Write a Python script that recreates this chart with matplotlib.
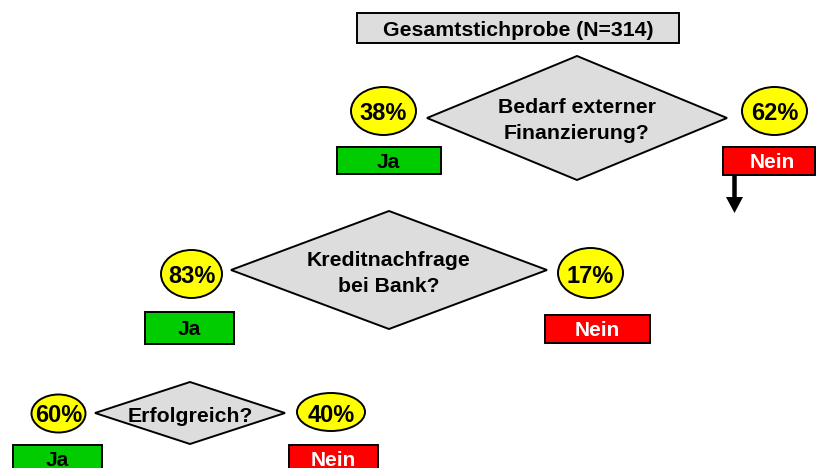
import matplotlib
matplotlib.use("Agg")
import matplotlib.pyplot as plt
from matplotlib.patches import Polygon, Ellipse, Rectangle, FancyArrow

plt.rcParams['font.family'] = ['Liberation Sans', 'DejaVu Sans']

# ---- data ----
title = "Gesamtstichprobe (N=314)"
questions = ["Bedarf externer\nFinanzierung?", "Kreditnachfrage\nbei Bank?", "Erfolgreich?"]
yes_pct = [38, 83, 60]
no_pct = [62, 17, 40]
yes_label = "Ja"
no_label = "Nein"

# ---- layout (pixel coordinates, y downward) ----
W, H = 817, 468
diamonds = [(577, 118, 150, 62), (389, 270, 158, 59), (190, 413, 95, 31)]
q_base = [(113, 139), (266, 292), (422,)]          # baselines of question lines
yes_ell = [(383.5, 111, 65, 48), (191.5, 274, 61, 48), (58.5, 413.5, 54, 38)]
no_ell = [(774.5, 111, 65, 48), (590.5, 273, 65, 50), (331, 412, 68, 38)]
pct_base = [120, 283, 421.5]
yes_box = [(337, 147, 441, 174), (145, 312, 234, 344), (13, 445, 102, 475)]
no_box = [(723, 147, 815.5, 175), (545, 315, 650, 343), (289, 445, 378, 475)]
yes_txt = [(388.5, 168), (189.5, 335), (57, 465.5)]
no_txt = [(772, 168), (597.5, 336.5), (333.5, 465.5)]

GREY = '#DDDDDD'
GREEN = '#00CC00'
RED = '#FF0000'
YELLOW = '#FFFF00'
LW = 1.4

fig = plt.figure(figsize=(W / 100, H / 100), dpi=100)
ax = fig.add_axes([0, 0, 1, 1])
ax.set_xlim(0, W)
ax.set_ylim(H, 0)
ax.axis('off')

# title box
ax.add_patch(Rectangle((357, 13), 322, 30, facecolor=GREY, edgecolor='black', lw=LW))
ax.text(518, 35.5, title, ha='center', va='baseline', fontsize=15.3, fontweight='bold')

for i, q in enumerate(questions):
    cx, cy, hw, hh = diamonds[i]
    ax.add_patch(Polygon([(cx - hw, cy), (cx, cy - hh), (cx + hw, cy), (cx, cy + hh)],
                         closed=True, facecolor=GREY, edgecolor='black', lw=LW))
    for line, yb in zip(q.split('\n'), q_base[i]):
        ax.text(cx, yb, line, ha='center', va='baseline', fontsize=15.3,
                fontweight='bold')

    for (ex, ey, ew, eh), val in ((yes_ell[i], yes_pct[i]), (no_ell[i], no_pct[i])):
        ax.add_patch(Ellipse((ex, ey), ew, eh, facecolor=YELLOW, edgecolor='black', lw=LW))
        ax.text(ex, pct_base[i], f"{val}%", ha='center', va='baseline', fontsize=17,
                fontweight='bold')

    x0, y0, x1, y1 = yes_box[i]
    ax.add_patch(Rectangle((x0, y0), x1 - x0, y1 - y0, facecolor=GREEN,
                           edgecolor='black', lw=LW))
    ax.text(*yes_txt[i], yes_label, ha='center', va='baseline', fontsize=15,
            fontweight='bold', color='black')

    x0, y0, x1, y1 = no_box[i]
    ax.add_patch(Rectangle((x0, y0), x1 - x0, y1 - y0, facecolor=RED,
                           edgecolor='black', lw=LW))
    ax.text(*no_txt[i], no_label, ha='center', va='baseline', fontsize=15,
            fontweight='bold', color='white')

# arrow from first "Nein"
ax.add_patch(FancyArrow(734.5, 175, 0, 38, width=4.5, head_width=17, head_length=16,
                        length_includes_head=True, facecolor='black', edgecolor='black',
                        lw=0))

fig.savefig('out.png', dpi=100)
